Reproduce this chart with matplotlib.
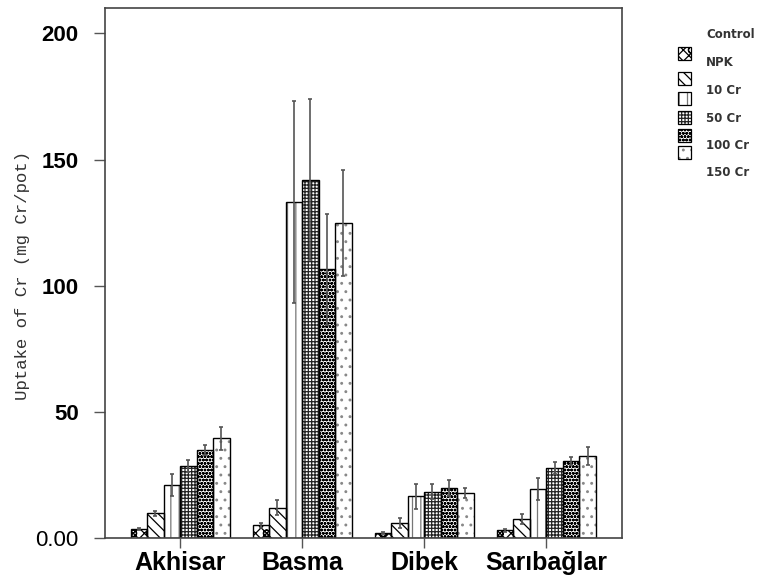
import matplotlib
matplotlib.use("Agg")
import matplotlib.pyplot as plt
import numpy as np
from matplotlib.patches import Rectangle

sites = ["Akhisar", "Basma", "Dibek", "Sarıbağlar"]
treatments = ["Control", "NPK", "10 Cr", "50 Cr", "100 Cr", "150 Cr"]

# values per treatment across sites
control = [3.5, 5.0, 2.0, 3.0]
npk = [9.8, 12.0, 6.0, 7.5]
cr10 = [21.0, 133.0, 16.6, 19.4]
cr50 = [28.5, 142.0, 18.3, 27.7]
cr100 = [35.0, 106.5, 19.8, 30.5]
cr150 = [39.5, 125.0, 17.8, 32.5]

control_err = [0.5, 1.0, 0.5, 0.7]
npk_err = [1.0, 3.0, 2.0, 2.0]
cr10_err = [4.5, 40.0, 5.0, 4.5]
cr50_err = [2.5, 32.0, 3.0, 2.5]
cr100_err = [2.0, 22.0, 3.0, 1.5]
cr150_err = [4.5, 21.0, 2.0, 3.5]

yticks = [0, 50, 100, 150, 200]
ytick_labels = ["0.00", "50", "100", "150", "200"]

series = [control, npk, cr10, cr50, cr100, cr150]
errors = [control_err, npk_err, cr10_err, cr50_err, cr100_err, cr150_err]
hatches = ["XXXo", "\\\\\\", "||", "+++++", "ooooo", ".."]
hatch_cols = ["black", "black", "#777777", "#222222", "black", "#888888"]

plt.rcParams["hatch.linewidth"] = 0.9
fig = plt.figure(figsize=(7.62, 5.79), dpi=100)
ax = fig.add_axes([0.1378, 0.0708, 0.8163 - 0.1378, 0.986 - 0.0708])

x = np.arange(len(sites))
w = 0.135
for i, (vals, errs, h, hc) in enumerate(zip(series, errors, hatches, hatch_cols)):
    pos = x + (i - 2.5) * w
    ax.bar(pos, vals, width=w, facecolor="white", edgecolor=hc,
           hatch=h, linewidth=0, zorder=2)
    ax.bar(pos, vals, width=w, facecolor="none", edgecolor="black",
           linewidth=1.0, zorder=2.5)
    ax.errorbar(pos, vals, yerr=errs, fmt="none", ecolor="#555555",
                elinewidth=1.2, capsize=1.5, capthick=1.2, zorder=3)

ax.set_xlim(-0.615, 3.62)
ax.set_ylim(0, 210)
ax.set_yticks(yticks)
ax.set_yticklabels(ytick_labels, fontsize=16, fontfamily="Liberation Sans")
for lab in ax.get_yticklabels():
    if lab.get_text() != "0.00":
        lab.set_fontweight("bold")
ax.set_xticks(x)
ax.set_xticklabels(sites, fontsize=18, fontweight="bold", fontfamily="Liberation Sans")
ax.tick_params(axis="y", length=8, width=1, color="#555555", pad=11)
ax.tick_params(axis="x", length=7, width=1, color="#555555", pad=2)
for s in ax.spines.values():
    s.set_color("#444444")
    s.set_linewidth(1.2)

ax.set_ylabel("Uptake of Cr (mg Cr/pot)", fontsize=12.5, fontfamily="Liberation Mono",
              color="#333333")
ax.yaxis.set_label_coords(-0.145, 0.496)

# legend drawn at right of the axes
label_y = [35, 63, 91, 118, 145, 173]
patch_y = [53, 78, 98, 117, 135, 152]
for t, ly in zip(treatments, label_y):
    fig.text(706 / 762, 1 - ly / 579, t, fontsize=8.5, fontweight="bold",
             fontfamily="DejaVu Sans", va="center", ha="left", color="#333333")
for h, hc, py in zip(hatches, hatch_cols, patch_y):
    fig.patches.append(Rectangle((678 / 762, 1 - (py + 7) / 579), 13 / 762, 13 / 579,
                                 transform=fig.transFigure, facecolor="white",
                                 edgecolor=hc, hatch=h, linewidth=0))
    fig.patches.append(Rectangle((678 / 762, 1 - (py + 7) / 579), 13 / 762, 13 / 579,
                                 transform=fig.transFigure, facecolor="none",
                                 edgecolor="black", linewidth=0.9))

fig.savefig("out.png", dpi=100)
